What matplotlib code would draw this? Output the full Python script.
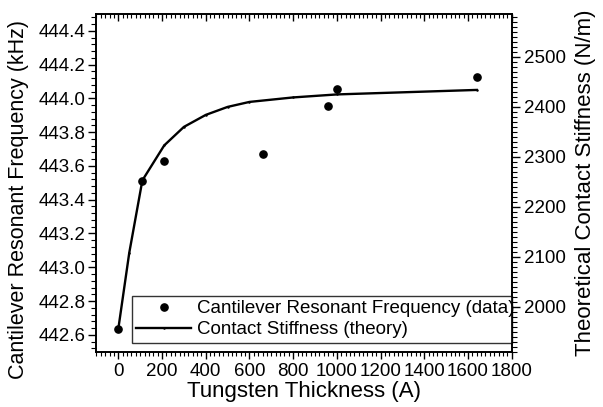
import matplotlib
matplotlib.use("Agg")
import matplotlib.pyplot as plt
from matplotlib.ticker import MultipleLocator

plt.rcParams['font.family'] = ['Liberation Sans', 'DejaVu Sans']

# Data
thickness_data = [0, 110, 210, 660, 960, 1000, 1640]
freq_data = [442.636, 443.509, 443.627, 443.672, 443.956, 444.054, 444.126]

thickness_theory = [0, 50, 110, 210, 300, 400, 500, 600, 800, 1000, 1640]
stiffness_theory = [1956, 2108, 2253, 2323, 2360, 2384, 2400, 2410, 2419, 2425, 2434]

x_ticks = [0, 200, 400, 600, 800, 1000, 1200, 1400, 1600, 1800]
left_ticks = [442.6, 442.8, 443.0, 443.2, 443.4, 443.6, 443.8, 444.0, 444.2, 444.4]
right_ticks = [2000, 2100, 2200, 2300, 2400, 2500]

fig = plt.figure(figsize=(6.03, 4.07), dpi=100)
ax = fig.add_axes([0.160, 0.1359, 0.6886, 0.8297])
ax2 = ax.twinx()

pts, = ax.plot(thickness_data, freq_data, 'o', color='black', markersize=5.2,
               label='Cantilever Resonant Frequency (data)')
ln, = ax2.plot(thickness_theory, stiffness_theory, '-', color='black', lw=1.7,
               marker='o', markersize=0.8,
               label='Contact Stiffness (theory)')

ax.set_xlim(-100, 1800)
ax.set_ylim(442.5, 444.5)
ax2.set_ylim(1910, 2586)

ax.set_xticks(x_ticks)
ax.set_xticklabels([str(t) for t in x_ticks])
ax.set_yticks(left_ticks)
ax.set_yticklabels([f"{t:.1f}" for t in left_ticks])
ax2.set_yticks(right_ticks)
ax2.set_yticklabels([str(t) for t in right_ticks])

ax.xaxis.set_minor_locator(MultipleLocator(20))
ax.yaxis.set_minor_locator(MultipleLocator(0.04))
ax2.yaxis.set_minor_locator(MultipleLocator(10))

ax.tick_params(axis='x', which='both', direction='out', top=True, labeltop=False)
ax.tick_params(axis='x', which='major', length=5, width=1, labelsize=13.5, pad=3)
ax.tick_params(axis='x', which='minor', length=3, width=0.8)
ax.tick_params(axis='y', which='major', direction='out', length=6, width=1, labelsize=13.5, pad=2)
ax.tick_params(axis='y', which='minor', direction='out', length=3.5, width=0.8)
ax2.tick_params(axis='y', which='major', direction='out', length=6, width=1, labelsize=13.5, pad=3)
ax2.tick_params(axis='y', which='minor', direction='out', length=3.5, width=0.8)

# top ticks inward
for tk in ax.xaxis.get_major_ticks() + ax.xaxis.get_minor_ticks():
    tk.tick2line.set_marker(3)

for a in (ax, ax2):
    for s in a.spines.values():
        s.set_linewidth(1.2)

ax.set_xlabel('Tungsten Thickness (A)', fontsize=16, labelpad=1)
ax.set_ylabel('Cantilever Resonant Frequency (kHz)', fontsize=15.5)
ax.yaxis.set_label_coords(-0.162, 0.45)
ax2.set_ylabel('Theoretical Contact Stiffness (N/m)', fontsize=16, labelpad=6)

leg = ax.legend([pts, ln], [pts.get_label(), ln.get_label()],
                loc='lower left', bbox_to_anchor=(0.085, 0.026, 0.915, 0.1715),
                mode='expand', fontsize=13.5, frameon=True, fancybox=False,
                borderaxespad=0, handlelength=2.9, handletextpad=0.35,
                borderpad=0.25, labelspacing=0.2)
leg.get_frame().set_edgecolor('black')
leg.get_frame().set_linewidth(1.0)
leg.set_zorder(5)

fig.savefig('out.png', dpi=100)
